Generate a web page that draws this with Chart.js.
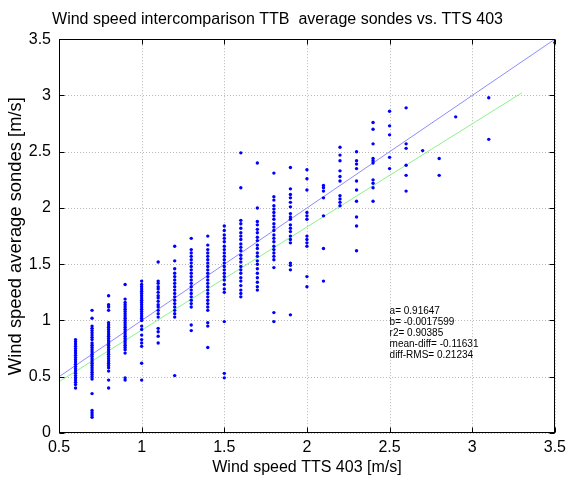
<!DOCTYPE html>
<html>
<head>
<meta charset="utf-8">
<script src="https://cdn.jsdelivr.net/npm/chart.js@4/dist/chart.umd.min.js"></script>
<style>
  html, body { margin: 0; padding: 0; background: #fff; }
  #wrap { width: 571px; height: 481px; }
</style>
</head>
<body>
<div id="wrap"><canvas id="c" width="571" height="481"></canvas></div>
<script>
// ---- data ----
const colX = [0.6, 0.7, 0.8, 0.9, 1.0, 1.1, 1.2, 1.3, 1.4, 1.5, 1.6, 1.7, 1.8, 1.9, 2.0, 2.1, 2.2, 2.3, 2.4, 2.5, 2.6, 2.7, 2.8, 2.9, 3.1, 3.5];
const colY = [
  [0.83,0.81,0.79,0.77,0.75,0.73,0.71,0.69,0.67,0.65,0.63,0.61,0.59,0.57,0.55,0.53,0.51,0.49,0.47,0.45,0.43,0.40],
  [1.09,1.02,0.95,0.93,0.91,0.89,0.87,0.85,0.83,0.80,0.78,0.76,0.74,0.72,0.70,0.68,0.66,0.64,0.62,0.60,0.58,0.56,0.54,0.52,0.50,0.48,0.35,0.20,0.18,0.16,0.14],
  [1.22,1.14,1.12,1.09,0.98,0.96,0.94,0.92,0.90,0.88,0.86,0.84,0.82,0.80,0.78,0.76,0.74,0.72,0.70,0.68,0.66,0.64,0.62,0.60,0.58,0.55,0.47,0.40],
  [1.32,1.19,1.16,1.14,1.12,1.10,1.08,1.06,1.04,1.02,1.00,0.98,0.96,0.94,0.92,0.90,0.88,0.86,0.84,0.82,0.80,0.78,0.76,0.74,0.71,0.49,0.47],
  [1.35,1.32,1.30,1.28,1.26,1.24,1.22,1.20,1.18,1.16,1.14,1.12,1.10,1.08,1.06,1.04,1.02,1.00,0.95,0.92,0.87,0.83,0.80,0.77,0.62,0.47],
  [1.52,1.35,1.33,1.30,1.28,1.25,1.22,1.20,1.17,1.14,1.12,1.09,1.06,1.03,0.93,0.90,0.86,0.80],
  [1.66,1.53,1.46,1.42,1.39,1.36,1.33,1.30,1.27,1.24,1.21,1.18,1.15,1.12,1.09,1.06,1.03,0.51],
  [1.73,1.63,1.60,1.57,1.54,1.51,1.48,1.45,1.42,1.39,1.36,1.33,1.30,1.27,1.24,1.21,1.18,1.15,1.12,0.96,0.91],
  [1.75,1.67,1.63,1.60,1.57,1.54,1.51,1.48,1.45,1.42,1.39,1.36,1.33,1.30,1.27,1.24,1.21,1.18,1.15,1.12,1.09,0.98,0.95,0.76],
  [1.84,1.80,1.76,1.73,1.70,1.66,1.63,1.60,1.57,1.54,1.51,1.48,1.45,1.42,1.39,1.36,1.32,1.28,1.25,0.99,0.53,0.49],
  [2.49,2.18,1.89,1.86,1.82,1.78,1.75,1.72,1.68,1.65,1.62,1.58,1.55,1.52,1.48,1.45,1.42,1.38,1.35,1.31,1.27,1.24,1.21],
  [2.40,2.00,1.88,1.85,1.81,1.78,1.74,1.71,1.67,1.64,1.60,1.57,1.53,1.50,1.46,1.42,1.38,1.34,1.30,1.27],
  [2.31,2.10,2.07,2.02,1.99,1.96,1.93,1.90,1.86,1.83,1.80,1.76,1.73,1.70,1.66,1.63,1.60,1.57,1.54,1.47,1.07,0.99],
  [2.36,2.17,2.12,2.09,2.05,2.01,1.95,1.92,1.90,1.85,1.82,1.79,1.75,1.72,1.69,1.51,1.49,1.45,1.05],
  [2.34,2.26,2.16,1.96,1.93,1.90,1.75,1.72,1.69,1.66,1.39,1.30],
  [2.20,2.18,2.15,2.09,1.93,1.64,1.35],
  [2.54,2.47,2.42,2.33,2.28,2.24,2.11,2.08,2.05,2.02],
  [2.50,2.42,2.39,2.35,2.24,2.16,2.06,1.92,1.84,1.62],
  [2.76,2.70,2.57,2.44,2.42,2.40,2.25,2.22,2.18,2.06],
  [2.86,2.73,2.65,2.45,2.35],
  [2.89,2.57,2.53,2.38,2.29,2.15],
  [2.51],
  [2.44,2.29],
  [2.81],
  [2.98,2.61],
  [3.47]
];
const identityX = [0.5, 3.5];
const identityY = [0.5, 3.5];
const fitX = [0.5, 3.3];
const fitY = [0.456, 3.023];
const xTicks = [0.5, 1, 1.5, 2, 2.5, 3, 3.5];
const yTicks = [0, 0.5, 1, 1.5, 2, 2.5, 3, 3.5];
const xTickLabels = ['0.5', '1', '1.5', '2', '2.5', '3', '3.5'];
const yTickLabels = ['0', '0.5', '1', '1.5', '2', '2.5', '3', '3.5'];
const statLines = ['a= 0.91647', 'b= -0.0017599', 'r2= 0.90385', 'mean-diff= -0.11631', 'diff-RMS= 0.21234'];
const statAnchor = [2.5, 1.08];
const titleText = 'Wind speed intercomparison TTB  average sondes vs. TTS 403';
const xTitle = 'Wind speed TTS 403 [m/s]';
const yTitle = 'Wind speed average sondes [m/s]';

// ---- build datasets ----
const scatterPts = [];
colX.forEach((x, i) => colY[i].forEach(y => scatterPts.push({x: x, y: y})));
const idPts = identityX.map((x, i) => ({x: x, y: identityY[i]}));
const fitPts = fitX.map((x, i) => ({x: x, y: fitY[i]}));

const FONT = 'Liberation Sans, Arial, Helvetica, sans-serif';

const frame = {
  id: 'frame',
  beforeDatasetsDraw(chart) {
    const {ctx, chartArea: a, scales: {x, y}} = chart;
    ctx.save();
    ctx.strokeStyle = '#b8b8b8';
    ctx.lineWidth = 1;
    ctx.setLineDash([1, 2]);
    xTicks.forEach(v => {
      const px = Math.round(x.getPixelForValue(v)) + 0.5;
      ctx.beginPath(); ctx.moveTo(px, a.top); ctx.lineTo(px, a.bottom); ctx.stroke();
    });
    yTicks.forEach(v => {
      const py = Math.round(y.getPixelForValue(v)) + 0.5;
      ctx.beginPath(); ctx.moveTo(a.left, py); ctx.lineTo(a.right, py); ctx.stroke();
    });
    ctx.restore();
  },
  afterDatasetsDraw(chart) {
    const {ctx, chartArea: a, scales: {x, y}} = chart;
    ctx.save();
    ctx.strokeStyle = '#000';
    ctx.lineWidth = 1;
    ctx.setLineDash([]);
    const L = Math.round(a.left) + 0.5, R = Math.round(a.right) - 0.5;
    const T = Math.round(a.top) + 0.5, B = Math.round(a.bottom) - 0.5;
    ctx.strokeRect(L, T, R - L, B - T);
    const tl = 5;
    xTicks.forEach(v => {
      const px = Math.round(x.getPixelForValue(v)) + 0.5;
      ctx.beginPath(); ctx.moveTo(px, B); ctx.lineTo(px, B - tl); ctx.stroke();
      ctx.beginPath(); ctx.moveTo(px, T); ctx.lineTo(px, T + tl); ctx.stroke();
    });
    yTicks.forEach(v => {
      const py = Math.round(y.getPixelForValue(v)) + 0.5;
      ctx.beginPath(); ctx.moveTo(L, py); ctx.lineTo(L + tl, py); ctx.stroke();
      ctx.beginPath(); ctx.moveTo(R, py); ctx.lineTo(R - tl, py); ctx.stroke();
    });
    // statistics text
    ctx.fillStyle = '#000';
    ctx.font = '10px ' + FONT;
    ctx.textAlign = 'left';
    ctx.textBaseline = 'middle';
    const sx = x.getPixelForValue(statAnchor[0]);
    const sy = y.getPixelForValue(statAnchor[1]);
    statLines.forEach((t, i) => ctx.fillText(t, sx, sy + i * 11));
    ctx.restore();
  }
};

new Chart(document.getElementById('c'), {
  type: 'scatter',
  data: {
    datasets: [
      {
        type: 'line', data: idPts, borderColor: '#8c8cff', borderWidth: 1,
        pointRadius: 0, fill: false, tension: 0, order: 2
      },
      {
        type: 'line', data: fitPts, borderColor: '#8cf28c', borderWidth: 1,
        pointRadius: 0, fill: false, tension: 0, order: 2
      },
      {
        data: scatterPts, backgroundColor: '#0000ff', borderColor: '#0000ff',
        borderWidth: 0, pointRadius: 1.7, pointHoverRadius: 1.7, order: 1
      }
    ]
  },
  options: {
    responsive: false,
    animation: false,
    events: [],
    layout: { padding: { left: 0, right: 16, top: 0, bottom: 0 } },
    plugins: {
      legend: { display: false },
      tooltip: { enabled: false },
      title: {
        display: true, text: titleText, color: '#000',
        font: { size: 16, family: FONT, weight: 'normal' },
        padding: { top: 10, bottom: 10 }
      }
    },
    scales: {
      x: {
        type: 'linear', min: 0.5, max: 3.5,
        afterBuildTicks: s => { s.ticks = xTicks.map(v => ({value: v})); },
        ticks: {
          color: '#000', font: { size: 16, family: FONT }, padding: 5, maxRotation: 0,
          callback: (v, i) => xTickLabels[i]
        },
        grid: { display: false, drawTicks: false },
        border: { display: false },
        title: { display: true, text: xTitle, color: '#000', font: { size: 16, family: FONT }, padding: { top: 0, bottom: 4 } },
        afterFit: s => { s.height = 48; }
      },
      y: {
        type: 'linear', min: 0, max: 3.5,
        afterBuildTicks: s => { s.ticks = yTicks.map(v => ({value: v})); },
        ticks: {
          color: '#000', font: { size: 16, family: FONT }, padding: 8,
          callback: (v, i) => yTickLabels[i]
        },
        grid: { display: false, drawTicks: false },
        border: { display: false },
        title: { display: true, text: yTitle, color: '#000', font: { size: 18.4, family: FONT }, padding: { top: 5, bottom: 0 } },
        afterFit: s => { s.width = 59; }
      }
    }
  },
  plugins: [frame]
});
</script>
</body>
</html>
